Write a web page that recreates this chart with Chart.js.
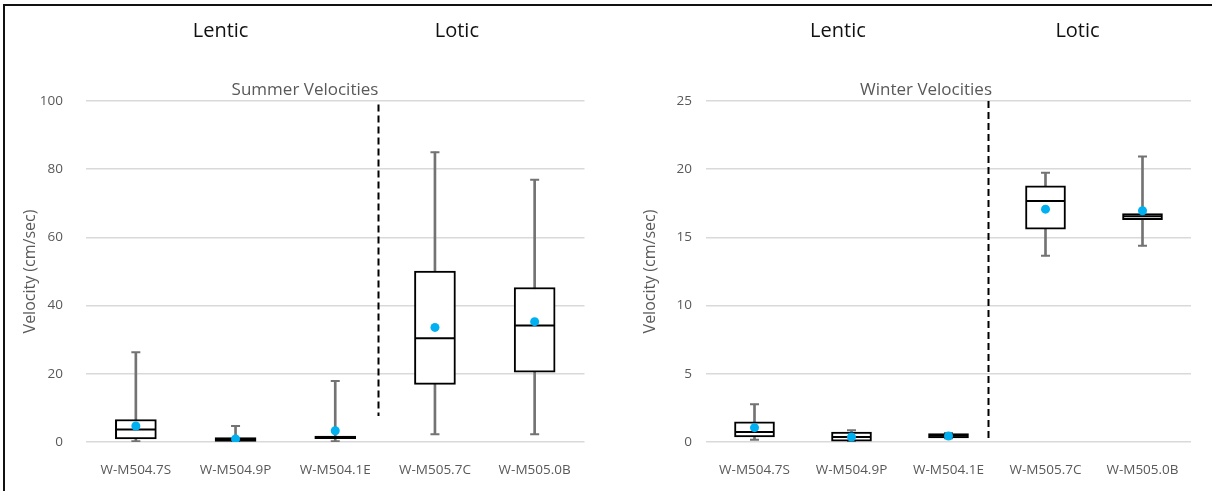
<!DOCTYPE html>
<html>
<head>
<meta charset="utf-8">
<title>Summer and Winter Velocities</title>
<script src="https://cdn.jsdelivr.net/npm/chart.js@4.4.1/dist/chart.umd.min.js"></script>
<style>
  html, body { margin: 0; padding: 0; background: #fff; }
  #page { position: relative; width: 1212px; height: 491px; overflow: hidden; background: #fff; }
  .panel { position: absolute; top: 0; width: 606px; height: 491px; }
  #frame {
    position: absolute; left: 3px; top: 4px; right: 0; bottom: 0;
    border-top: 2px solid #111; border-left: 2px solid #111; pointer-events: none;
  }
</style>
</head>
<body>
<div id="page">
  <div class="panel" style="left:0"><canvas id="summer-chart" width="606" height="491"></canvas></div>
  <div class="panel" style="left:606px"><canvas id="winter-chart" width="606" height="491"></canvas></div>
  <div id="frame"></div>
</div>
<script>
// Sampling sites (same five on both panels)
const sites = ['W-M504.7S', 'W-M504.9P', 'W-M504.1E', 'W-M505.7C', 'W-M505.0B'];

// Summer velocities (cm/sec)
const summerMin = [0.2, 0.0, 0.2, 2.3, 2.3];
const summerQ1 = [0.9, 0.2, 1.0, 16.9, 20.5];
const summerMedian = [3.7, 0.7, 1.3, 30.4, 34.2];
const summerQ3 = [6.6, 1.3, 1.7, 50.1, 45.3];
const summerMax = [26.3, 4.7, 17.9, 85.0, 76.9];
const summerMean = [4.7, 0.9, 3.3, 33.6, 35.3];
const summerTicks = [0, 20, 40, 60, 80, 100];

// Winter velocities (cm/sec)
const winterMin = [0.17, 0.05, 0.28, 13.65, 14.38];
const winterQ1 = [0.37, 0.07, 0.29, 15.6, 16.3];
const winterMedian = [0.73, 0.37, 0.45, 17.66, 16.55];
const winterQ3 = [1.47, 0.73, 0.62, 18.78, 16.75];
const winterMax = [2.77, 0.86, 0.66, 19.74, 20.94];
const winterMean = [1.05, 0.37, 0.44, 17.07, 16.95];
const winterTicks = [0, 5, 10, 15, 20, 25];

const regionNames = ['Lentic', 'Lotic'];

const TEXT_GRAY = '#595959';
const GRID_GRAY = '#d9d9d9';
const WHISKER_GRAY = '#737373';
const MEAN_BLUE = '#00b0f0';
const FONT = '"Open Sans", "DejaVu Sans", sans-serif';

// Titles, Lentic/Lotic headers and the dashed lentic|lotic divider.
// Divider and header positions are in category-index units so they go through the x scale.
const overlayPlugin = {
  id: 'overlay',
  afterDraw(chart, args, opts) {
    const { ctx, scales: { x, y } } = chart;
    ctx.save();

    ctx.strokeStyle = '#000';
    ctx.lineWidth = 2;
    ctx.setLineDash([7, 4]);
    const sx = Math.round(x.getPixelForValue(opts.divider.at)) + 0.5;
    ctx.beginPath();
    ctx.moveTo(sx, y.getPixelForValue(opts.divider.to));
    ctx.lineTo(sx, y.getPixelForValue(opts.divider.from));
    ctx.stroke();
    ctx.setLineDash([]);

    ctx.textAlign = 'center';
    ctx.textBaseline = 'middle';
    ctx.fillStyle = TEXT_GRAY;
    ctx.font = `17px ${FONT}`;
    ctx.fillText(opts.title, opts.titleX, 90);

    ctx.fillStyle = '#111';
    ctx.font = `20px ${FONT}`;
    regionNames.forEach((name, i) => {
      ctx.fillText(name, x.getPixelForValue(opts.headerAt[i]), 31);
    });
    ctx.restore();
  },
};

function boxDatasets(min, q1, median, q3, max, mean, boxWidth) {
  return [
    {
      type: 'line', label: 'Mean', data: mean, showLine: false,
      pointStyle: 'circle', pointRadius: 4.5, pointBackgroundColor: MEAN_BLUE,
      pointBorderWidth: 0, borderColor: MEAN_BLUE,
    },
    {
      type: 'line', label: 'Median', data: median, showLine: false,
      pointStyle: 'line', pointRadius: boxWidth / 2 - 1, pointBorderColor: '#000',
      pointBorderWidth: 2, borderColor: '#000',
    },
    {
      type: 'bar', label: 'IQR', data: q1.map((v, i) => [v, q3[i]]), grouped: false,
      backgroundColor: '#fff', borderColor: '#000', borderWidth: 2, borderSkipped: false,
      barThickness: boxWidth,
    },
    {
      type: 'line', label: 'Max', data: max, showLine: false,
      pointStyle: 'line', pointRadius: 4.5, pointBorderColor: WHISKER_GRAY,
      pointBorderWidth: 2, borderColor: WHISKER_GRAY,
    },
    {
      type: 'line', label: 'Min', data: min, showLine: false,
      pointStyle: 'line', pointRadius: 4.5, pointBorderColor: WHISKER_GRAY,
      pointBorderWidth: 2, borderColor: WHISKER_GRAY,
    },
    {
      type: 'bar', label: 'Whisker', data: min.map((v, i) => [v, max[i]]), grouped: false,
      backgroundColor: WHISKER_GRAY, borderWidth: 0, barThickness: 2,
    },
  ];
}

function makeBoxChart(canvasId, setup) {
  return new Chart(document.getElementById(canvasId), {
    type: 'bar',
    data: { labels: sites, datasets: setup.datasets },
    options: {
      responsive: false,
      animation: false,
      layout: { padding: { left: 8, right: setup.padRight, top: 101, bottom: 0 } },
      scales: {
        x: {
          grid: { display: false },
          border: { display: false },
          ticks: { color: TEXT_GRAY, font: { family: FONT, size: 13.5 }, padding: 12, maxRotation: 0 },
          afterFit: (scale) => { scale.height = 49; },
        },
        y: {
          min: 0,
          max: setup.ticks[setup.ticks.length - 1],
          afterBuildTicks: (scale) => { scale.ticks = setup.ticks.map((v) => ({ value: v })); },
          grid: { color: GRID_GRAY, lineWidth: 1.5, drawTicks: false },
          border: { display: false },
          ticks: { color: TEXT_GRAY, font: { family: FONT, size: 13.5 }, padding: setup.tickPad },
          title: {
            display: true, text: 'Velocity (cm/sec)', color: TEXT_GRAY,
            font: { family: FONT, size: 16 }, padding: { top: setup.titlePad, bottom: 0 },
          },
          afterFit: (scale) => { scale.width = setup.axisWidth; },
        },
      },
      plugins: {
        legend: { display: false },
        tooltip: { enabled: false },
        overlay: setup.overlay,
      },
    },
    plugins: [overlayPlugin],
  });
}

makeBoxChart('summer-chart', {
  datasets: boxDatasets(summerMin, summerQ1, summerMedian, summerQ3, summerMax, summerMean, 41),
  ticks: summerTicks,
  padRight: 19,
  axisWidth: 78,
  tickPad: 23,
  titlePad: 13,
  overlay: { title: 'Summer Velocities', titleX: 305, headerAt: [0.85, 3.22], divider: { at: 2.43, from: 7.6, to: 99 } },
});

makeBoxChart('winter-chart', {
  datasets: boxDatasets(winterMin, winterQ1, winterMedian, winterQ3, winterMax, winterMean, 40),
  ticks: winterTicks,
  padRight: 4,
  axisWidth: 92,
  tickPad: 14,
  titlePad: 27,
  overlay: { title: 'Winter Velocities', titleX: 320, headerAt: [0.86, 3.33], divider: { at: 2.41, from: 0, to: 25 } },
});
</script>
</body>
</html>
